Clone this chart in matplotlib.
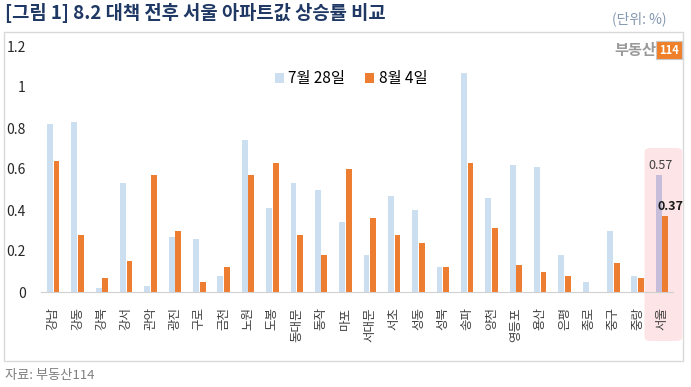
import numpy as np
import matplotlib
matplotlib.use("Agg")
import matplotlib.pyplot as plt
from matplotlib.patches import FancyBboxPatch, Rectangle
import matplotlib.transforms as mtransforms

plt.rcParams['font.family'] = ['Noto Sans CJK KR', 'DejaVu Sans']

# data
districts = ["강남", "강동", "강북", "강서", "관악", "광진", "구로", "금천", "노원", "도봉",
             "동대문", "동작", "마포", "서대문", "서초", "성동", "성북", "송파", "양천", "영등포",
             "용산", "은평", "종로", "중구", "중랑", "서울"]
jul28 = [0.82, 0.83, 0.02, 0.53, 0.03, 0.27, 0.26, 0.08, 0.74, 0.41,
         0.53, 0.50, 0.34, 0.18, 0.47, 0.40, 0.12, 1.07, 0.46, 0.62,
         0.61, 0.18, 0.05, 0.30, 0.08, 0.57]
aug4 = [0.64, 0.28, 0.07, 0.15, 0.57, 0.30, 0.05, 0.12, 0.57, 0.63,
        0.28, 0.18, 0.60, 0.36, 0.28, 0.24, 0.12, 0.63, 0.31, 0.13,
        0.10, 0.08, 0.00, 0.14, 0.07, 0.37]
labels = ["7월 28일", "8월 4일"]

blue = "#CCDFF1"
orange = "#ED7D31"

fig = plt.figure(figsize=(6.91, 3.87), dpi=100)
ax = fig.add_axes([41/691, 1 - 292/387, (673 - 41)/691, (292 - 46)/387])
ax.set_facecolor("none")

x = np.arange(len(districts))
w = 0.24
bcolors = [blue] * (len(districts) - 1) + ["#C6BDDA"]
ax.bar(x - 0.135, jul28, w, color=bcolors, label=labels[0], zorder=2)
ax.bar(x + 0.135, aug4, w, color=orange, label=labels[1], zorder=2)

ax.set_xlim(-0.5, len(districts) - 0.55)
ax.set_ylim(0, 1.2)
ax.set_yticks(np.arange(0, 1.21, 0.2))
ax.set_yticklabels(["0", "0.2", "0.4", "0.6", "0.8", "1", "1.2"])
ax.set_xticks(x)
ax.set_xticklabels(districts, rotation=90, fontsize=9, color="#404040")
ax.tick_params(axis="y", length=0, pad=11, labelsize=10, labelcolor="#262626")
ax.tick_params(axis="x", length=0, pad=11)
for s in ["top", "right", "left"]:
    ax.spines[s].set_visible(False)
ax.spines["bottom"].set_color("#D0D0D0")

# highlight for 서울
trans = mtransforms.blended_transform_factory(ax.transData, fig.transFigure)
hl = FancyBboxPatch((x[-1] - 0.72, 1 - 341/387), 1.55, (341 - 148)/387,
                    boxstyle="round,pad=0,rounding_size=0.3", transform=trans,
                    facecolor="#FDE4E6", edgecolor="none", clip_on=False, zorder=0.5,
                    mutation_aspect=0.03)
ax.add_patch(hl)

# value labels for 서울
ax.text(x[-1] - 0.08, jul28[-1] + 0.015, f"{jul28[-1]:.2f}", ha="center", va="bottom",
        fontsize=9, color="#404040", zorder=3)
ax.text(x[-1] + 0.33, aug4[-1] + 0.015, f"{aug4[-1]:.2f}", ha="center", va="bottom",
        fontsize=9, fontweight="bold", color="#1a1a1a", zorder=3)

ax.legend(loc="center", bbox_to_anchor=(0.508, 0.796), bbox_transform=fig.transFigure,
          ncol=2, frameon=False, fontsize=11, handlelength=0.6, handleheight=0.6,
          handletextpad=0.3, columnspacing=1.3)

# outer frame
fig.patches.append(Rectangle((4/691, 1 - 361/387), (683 - 4)/691, (361 - 32)/387,
                             transform=fig.transFigure, facecolor="none",
                             edgecolor="#D9D9D9", lw=1, zorder=-1))

fig.text(5/691, 1 - 13/387, "[그림 1] 8.2 대책 전후 서울 아파트값 상승률 비교",
         ha="left", va="center", fontsize=13.5, fontweight="bold", color="#1F3864")
fig.text(667/691, 1 - 19/387, "(단위: %)", ha="right", va="center",
         fontsize=10, color="#8497B0")
fig.text(5/691, 1 - 375/387, "자료: 부동산114", ha="left", va="center",
         fontsize=9.5, color="#808080")

# logo
fig.text(656/691, 1 - 50/387, "부동산", ha="right", va="center",
         fontsize=11, fontweight="bold", color="#9A9A9A")
fig.text(669/691, 1 - 50/387, "114", ha="center", va="center",
         fontsize=8, fontweight="bold", color="white",
         bbox=dict(boxstyle="square,pad=0.25", facecolor="#F07F2A", edgecolor="#C8C8C8", lw=0.8))

fig.savefig("out.png", dpi=100)
